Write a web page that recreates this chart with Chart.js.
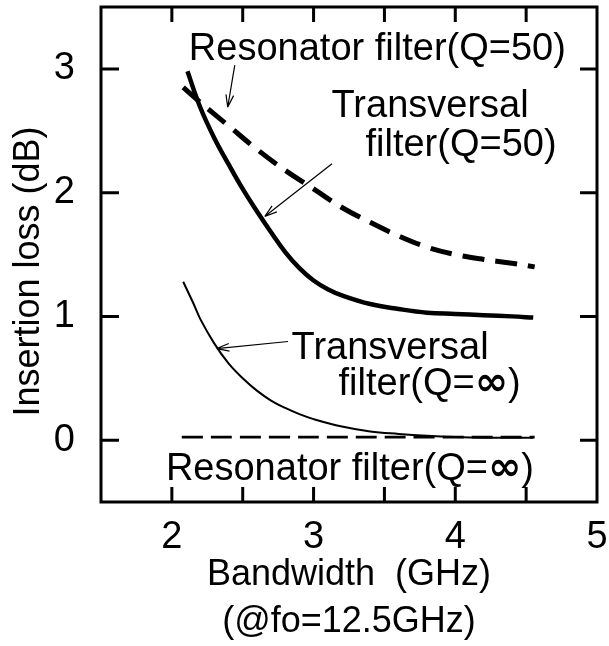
<!DOCTYPE html>
<html>
<head>
<meta charset="utf-8">
<script src="https://cdn.jsdelivr.net/npm/chart.js@4.4.1/dist/chart.umd.min.js"></script>
<style>
  html, body { margin: 0; padding: 0; background: #fff; }
</style>
</head>
<body>
<canvas id="lossChart" width="609" height="646"></canvas>
<script>
// --- data (bandwidth GHz -> insertion loss dB) ---
const transQ50Bw   = [2.11, 2.2, 2.3, 2.4, 2.5, 2.6, 2.7, 2.8, 2.9, 3.0, 3.1, 3.2, 3.4, 3.6, 3.8, 4.0, 4.2, 4.4, 4.55];
const transQ50Loss = [2.98, 2.69, 2.44, 2.23, 2.03, 1.85, 1.68, 1.52, 1.39, 1.29, 1.22, 1.17, 1.10, 1.06, 1.03, 1.02, 1.01, 1.00, 0.99];

const resQ50Bw   = [2.08, 2.2, 2.4, 2.6, 2.8, 3.0, 3.2, 3.4, 3.6, 3.8, 4.0, 4.2, 4.4, 4.56];
const resQ50Loss = [2.85, 2.73, 2.54, 2.35, 2.18, 2.03, 1.88, 1.76, 1.65, 1.56, 1.50, 1.46, 1.43, 1.40];

const transInfBw   = [2.08, 2.15, 2.2, 2.3, 2.4, 2.5, 2.6, 2.7, 2.8, 2.9, 3.0, 3.2, 3.4, 3.6, 3.8, 4.0, 4.2, 4.55];
const transInfLoss = [1.28, 1.11, 0.98, 0.78, 0.62, 0.50, 0.40, 0.32, 0.26, 0.21, 0.17, 0.11, 0.07, 0.05, 0.035, 0.025, 0.02, 0.02];

const resInfBw   = [2.07, 4.56];
const resInfLoss = [0.025, 0.025];

const xTitle = ['Bandwidth  (GHz)', '(@fo=12.5GHz)'];
const yTitle = 'Insertion loss (dB)';

const FONT = "'Liberation Sans', Arial, Helvetica, sans-serif";

// labels + arrows placed in data units
const notes = [
  { x: 2.12,  y: 3.07,  runs: [['Resonator filter(Q=50)']] },
  { x: 3.127, y: 2.61,  runs: [['Transversal']] },
  { x: 3.366, y: 2.30,  runs: [['filter(Q=50)']] },
  { x: 2.845, y: 0.659, runs: [['Transversal']] },
  { x: 3.176, y: 0.366, runs: [['filter(Q='], ['∞', true], [')']] },
  { x: 1.958, y: -0.325, runs: [['Resonator filter(Q='], ['∞', true], [')']] },
];
const arrows = [
  { from: [2.444, 3.03], to: [2.394, 2.69] },
  { from: [3.13, 2.233], to: [2.655, 1.807] },
  { from: [2.82, 0.797], to: [2.317, 0.74] },
];

const pts = (xs, ys) => xs.map((x, i) => ({ x, y: ys[i] }));

const frame = {
  id: 'frame',
  afterDatasetsDraw(chart) {
    const { ctx, chartArea: a, scales: { x, y } } = chart;
    ctx.save();
    ctx.strokeStyle = '#000';
    ctx.lineWidth = 3;
    ctx.strokeRect(a.left, a.top, a.right - a.left, a.bottom - a.top);
    ctx.beginPath();
    x.ticks.forEach(t => {
      if (t.value <= x.min || t.value >= x.max) return;
      const px = x.getPixelForValue(t.value);
      ctx.moveTo(px, a.bottom); ctx.lineTo(px, a.bottom - 15);
      ctx.moveTo(px, a.top);    ctx.lineTo(px, a.top + 15);
    });
    y.ticks.forEach(t => {
      if (!Number.isInteger(t.value)) return;
      const py = y.getPixelForValue(t.value);
      ctx.moveTo(a.left, py);  ctx.lineTo(a.left + 18, py);
      ctx.moveTo(a.right, py); ctx.lineTo(a.right - 17, py);
    });
    ctx.stroke();

    // y axis title, a bit below the middle like the original
    ctx.fillStyle = '#000';
    ctx.font = '36px ' + FONT;
    ctx.textAlign = 'center';
    ctx.textBaseline = 'middle';
    ctx.translate(29, (a.top + a.bottom) / 2 + 17);
    ctx.rotate(-Math.PI / 2);
    ctx.fillText(yTitle, 0, 0);
    ctx.restore();
  }
};

const notesPlugin = {
  id: 'notes',
  afterDatasetsDraw(chart) {
    const { ctx, scales: { x, y } } = chart;
    ctx.save();
    ctx.fillStyle = '#000';
    ctx.textBaseline = 'alphabetic';
    ctx.textAlign = 'left';
    notes.forEach(n => {
      let px = x.getPixelForValue(n.x);
      const py = y.getPixelForValue(n.y);
      n.runs.forEach(([t, bold]) => {
        ctx.font = bold ? "bold 40px 'DejaVu Sans', sans-serif" : '38px ' + FONT;
        ctx.fillText(t, px, py);
        px += ctx.measureText(t).width;
      });
    });

    ctx.strokeStyle = '#000';
    ctx.lineWidth = 1.2;
    arrows.forEach(ar => {
      const x0 = x.getPixelForValue(ar.from[0]), y0 = y.getPixelForValue(ar.from[1]);
      const x1 = x.getPixelForValue(ar.to[0]),   y1 = y.getPixelForValue(ar.to[1]);
      const ang = Math.atan2(y1 - y0, x1 - x0);
      ctx.beginPath();
      ctx.moveTo(x0, y0); ctx.lineTo(x1, y1);
      [0.3, -0.3].forEach(d => {
        ctx.moveTo(x1, y1);
        ctx.lineTo(x1 - 13 * Math.cos(ang + d), y1 - 13 * Math.sin(ang + d));
      });
      ctx.stroke();
    });
    ctx.restore();
  }
};

const line = (data, width, dash) => ({
  data, borderColor: '#000', borderWidth: width, borderDash: dash || [],
  pointRadius: 0, fill: false, tension: 0.4
});

const intLabel = v => Number.isInteger(v) ? String(v) : '';

new Chart(document.getElementById('lossChart'), {
  type: 'line',
  data: {
    datasets: [
      line(pts(transQ50Bw, transQ50Loss), 4.5),
      line(pts(resQ50Bw, resQ50Loss), 5, [22, 11]),
      line(pts(transInfBw, transInfLoss), 2),
      line(pts(resInfBw, resInfLoss), 2.7, [21, 8]),
    ]
  },
  options: {
    responsive: false,
    animation: false,
    layout: { padding: { top: 7, right: 12, left: 0, bottom: 0 } },
    plugins: { legend: { display: false }, tooltip: { enabled: false } },
    scales: {
      x: {
        type: 'linear', min: 1.5, max: 5,
        afterFit: s => { s.height = 144; s.paddingLeft = 0; s.paddingRight = 0; },
        grid: { display: false }, border: { display: false },
        ticks: {
          stepSize: 0.5, autoSkip: false, maxRotation: 0, padding: 5,
          color: '#000', font: { family: FONT, size: 38 },
          callback: intLabel
        },
        title: {
          display: true, text: xTitle, color: '#000',
          font: { family: FONT, size: 36, lineHeight: 1.32 },
          padding: { top: 0, bottom: 0 }
        }
      },
      y: {
        type: 'linear', min: -0.5, max: 3.5,
        afterFit: s => { s.width = 101; s.paddingTop = 0; s.paddingBottom = 0; },
        grid: { display: false }, border: { display: false },
        ticks: {
          stepSize: 0.5, autoSkip: false, padding: 18,
          color: '#000', font: { family: FONT, size: 38 },
          callback: intLabel
        },
        title: { display: false }
      }
    }
  },
  plugins: [frame, notesPlugin]
});
</script>
</body>
</html>
